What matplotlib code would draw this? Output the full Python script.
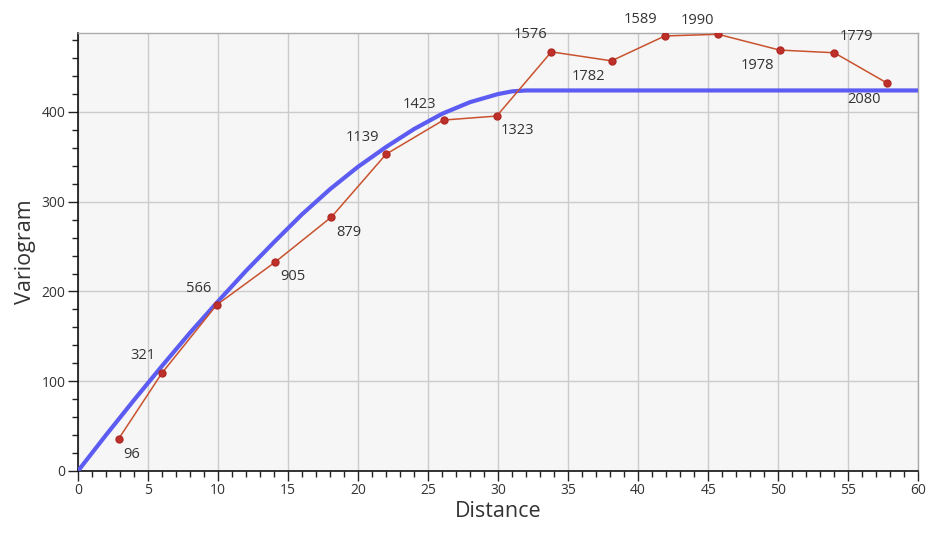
import numpy as np
import matplotlib.pyplot as plt
from matplotlib.ticker import MultipleLocator

plt.rcParams["font.family"] = ["Open Sans", "DejaVu Sans"]

# 实验变差函数点（距离, 变差值, 点对数）
lag_dist = [2.9, 6.0, 9.9, 14.1, 18.1, 22.0, 26.1, 29.9, 33.8, 38.1, 41.9, 45.7, 50.1, 54.0, 57.8]
lag_gamma = [35.7, 109.2, 185, 233, 283, 353, 391, 395.5, 467, 457, 484.7, 486.6, 469, 466, 432]
pair_count = [96, 321, 566, 905, 879, 1139, 1423, 1323, 1576, 1782, 1589, 1990, 1978, 1779, 2080]

# 拟合模型曲线
model_dist = [0, 2, 4, 6, 8, 10, 12, 14, 16, 18, 20, 22, 24, 26, 28, 30, 31, 32, 60]
model_gamma = [0, 40, 79, 117, 154, 189, 223, 255, 286, 314, 339, 361, 381, 398, 411, 420, 423, 424, 424]

# 标签偏移（像素）
label_off = [(13, -16), (-19, 17), (-18, 16), (17, -15), (17, -16), (-24, 17), (-24, 16),
             (21, -14), (-21, 17), (-23, -16), (-24, 16), (-21, 14), (-22, -15), (22, 16), (-23, -16)]

fig = plt.figure(figsize=(9.27, 5.36), dpi=100)
ax = fig.add_axes([0.0841, 0.1213, 0.9065, 0.8171])
ax.set_facecolor("#f6f6f6")

ax.plot(model_dist, model_gamma, color="#5c5cf2", lw=3, solid_capstyle="butt",
        solid_joinstyle="round", zorder=3)
ax.plot(lag_dist, lag_gamma, color="#c9522e", lw=1.1, zorder=4,
        marker="o", markersize=5, markerfacecolor="#c0302a", markeredgecolor="#b02a25")

for x, y, n, (dx, dy) in zip(lag_dist, lag_gamma, pair_count, label_off):
    ax.annotate(str(n), (x, y), xytext=(dx, dy), textcoords="offset pixels",
                ha="center", va="center", fontsize=10.5, color="#333333", zorder=5)

ax.set_xlim(0, 60)
ax.set_ylim(0, 488)
ax.xaxis.set_major_locator(MultipleLocator(5))
ax.xaxis.set_minor_locator(MultipleLocator(1))
ax.yaxis.set_major_locator(MultipleLocator(100))
ax.yaxis.set_minor_locator(MultipleLocator(20))
ax.grid(True, which="major", color="#cccccc", lw=1, zorder=0)
ax.set_axisbelow(True)

ax.tick_params(which="major", direction="out", length=7, width=1, labelsize=10,
               pad=2, colors="#222222", labelcolor="#333333")
ax.tick_params(which="minor", direction="out", length=4, width=1, colors="#222222")

for s in ["left", "bottom"]:
    ax.spines[s].set_color("#111111")
    ax.spines[s].set_linewidth(1.2)
for s in ["top", "right"]:
    ax.spines[s].set_color("#aaaaaa")
    ax.spines[s].set_linewidth(1)

ax.set_xlabel("Distance", fontsize=15.5, color="#333333", labelpad=2)
ax.set_ylabel("Variogram", fontsize=15.5, color="#333333", labelpad=4)

plt.savefig("out.png", dpi=100)
plt.close()
